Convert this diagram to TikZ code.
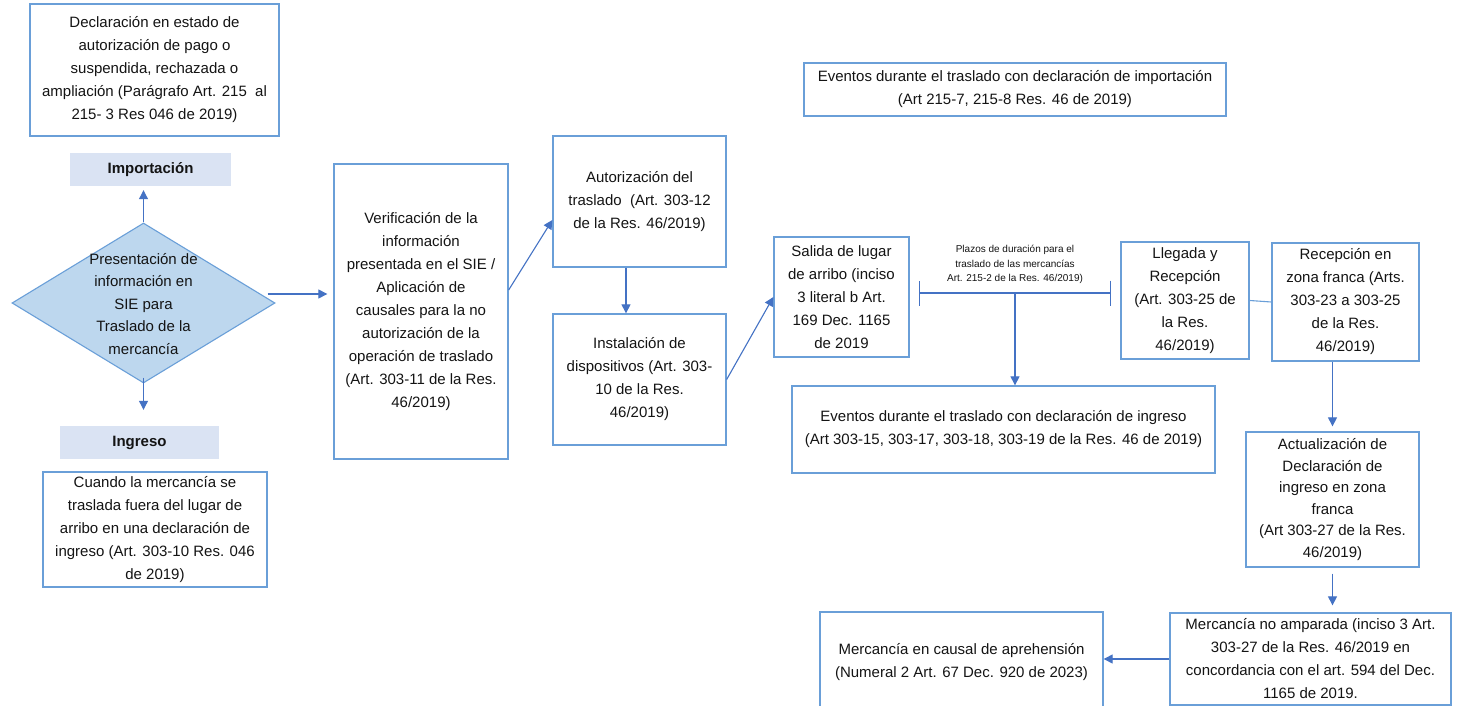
\documentclass[tikz,border=0pt]{standalone}
\usepackage{fontspec}
\setmainfont{Liberation Sans}
\usetikzlibrary{arrows.meta,shapes.geometric}
\definecolor{boxblue}{HTML}{6A9FD8}
\definecolor{arrblue}{HTML}{4472C4}
\definecolor{labfill}{HTML}{DAE3F3}
\definecolor{diafill}{HTML}{BDD7EE}
\definecolor{txt}{HTML}{141414}
\tikzset{
  box/.style={draw=boxblue, line width=1.3pt, fill=white, inner sep=0pt, align=center,
    text=txt, font=\fontsize{15}{23}\selectfont},
  lab/.style={fill=labfill, inner sep=0pt, align=center, text=txt,
    font=\fontsize{15}{23}\selectfont\bfseries},
  arr/.style={draw=arrblue, line width=1.1pt, -{Triangle[width=9pt,length=9pt]}},
  conn/.style={draw=boxblue, line width=1.1pt},
  dimline/.style={draw=arrblue, line width=1.1pt, {Bar[width=25pt,line width=1.1pt]}-{Bar[width=25pt,line width=1.1pt]}},
  small/.style={inner sep=0pt, align=center, text=txt, font=\fontsize{10}{14.5}\selectfont}
}
\begin{document}
\begin{tikzpicture}[x=1pt,y=-1pt]
\useasboundingbox (0,0) rectangle (1457,706);
\fill[white] (0,0) rectangle (1457,706);

\node[box, minimum width=249pt, minimum height=132pt] (decl) at (154.5,70)
  {Declaración en estado de\\autorización de pago o\\suspendida, rechazada o\\ampliación (Parágrafo Art. 215 \ al\\215- 3 Res 046 de 2019)};
\node[lab, minimum width=161pt, minimum height=33pt] (imp) at (150.5,169.5) {Importación};

\node[diamond, draw=boxblue, fill=diafill, line width=1.1pt, inner sep=0pt,
  minimum width=263pt, minimum height=160pt] (dia) at (143.5,303) {};
\node[inner sep=0pt, align=center, text=txt, font=\fontsize{15}{22.5}\selectfont] (diat) at (143.5,304)
  {Presentación de\\información en\\SIE para\\Traslado de la\\mercancía};

\node[lab, minimum width=159pt, minimum height=33pt] (ing) at (139.5,442.5) {Ingreso};
\node[box, minimum width=224pt, minimum height=115pt] (cuando) at (155,529.5)
  {Cuando la mercancía se\\traslada fuera del lugar de\\arribo en una declaración de\\ingreso (Art. 303-10 Res. 046\\de 2019)};

\node[box, minimum width=174pt, minimum height=295pt] (verif) at (421,311.5)
  {Verificación de la\\información\\presentada en el SIE /\\Aplicación de\\causales para la no\\autorización de la\\operación de traslado\\(Art. 303-11 de la Res.\\46/2019)};

\node[box, minimum width=173pt, minimum height=131pt] (autor) at (639.5,201.5)
  {Autorización del\\traslado \ (Art. 303-12\\de la Res. 46/2019)};
\node[box, minimum width=173pt, minimum height=131pt] (instal) at (639.5,379.5)
  {Instalación de\\dispositivos (Art. 303-\\10 de la Res.\\46/2019)};

\node[box, minimum width=135pt, minimum height=120pt] (salida) at (841.5,297)
  {Salida de lugar\\de arribo (inciso\\3 literal b Art.\\169 Dec. 1165\\de 2019};

\node[box, minimum width=422pt, minimum height=53pt] (evimp) at (1015,89.5)
  {Eventos durante el traslado con declaración de importación\\(Art 215-7, 215-8 Res. 46 de 2019)};
\node[box, minimum width=423pt, minimum height=87pt] (eving) at (1003.5,429.5)
  {Eventos durante el traslado con declaración de ingreso\\(Art 303-15, 303-17, 303-18, 303-19 de la Res. 46 de 2019)};

\node[box, minimum width=128pt, minimum height=117pt] (lleg) at (1185,300.5)
  {Llegada y\\Recepción\\(Art. 303-25 de\\la Res.\\46/2019)};
\node[box, minimum width=147pt, minimum height=118pt] (recep) at (1345.5,302)
  {Recepción en\\zona franca (Arts.\\303-23 a 303-25\\de la Res.\\46/2019)};
\node[box, minimum width=173pt, minimum height=135pt, font=\fontsize{15}{21.6}\selectfont] (actual) at (1332.5,499.5)
  {Actualización de\\Declaración de\\ingreso en zona\\franca\\(Art 303-27 de la Res.\\46/2019)};
\node[box, minimum width=281pt, minimum height=92pt] (noamp) at (1310.5,659)
  {Mercancía no amparada (inciso 3 Art.\\303-27 de la Res. 46/2019 en\\concordancia con el art. 594 del Dec.\\1165 de 2019.};
\node[box, minimum width=283pt, minimum height=100pt] (aprehen) at (961.5,662)
  {Mercancía en causal de aprehensión\\(Numeral 2 Art. 67 Dec. 920 de 2023)};

% dimension line
\coordinate (dl) at (919,293);
\coordinate (dr) at (1111,293);
\coordinate (dm) at (1015,293);
\draw[dimline] (dl) -- (dr);
\node[small] (plazo) at (1015,264.5)
  {Plazos de duración para el\\traslado de las mercancías\\Art. 215-2 de la Res. 46/2019)};
\draw[arr] (dm) -- (dm |- eving.north);

% connectors
\draw[arr, shorten >=4pt] (dia.north) -- (dia.north |- imp.south);
\draw[arr, shorten >=16pt, shorten <=-6pt] (dia.south) -- (dia.south |- ing.north);
\draw[arr, shorten >=6pt] ([xshift=-8pt,yshift=9pt]dia.east) -- ([yshift=9pt]verif.west |- dia.east);
\draw[arr] ([yshift=21.5pt]verif.east) -- ([yshift=-18.5pt]autor.west);
\draw[arr] ([xshift=-13.5pt]autor.south) -- ([xshift=-13.5pt]instal.north);
\draw[arr] (instal.east) -- (salida.west);
\draw[conn] (lleg.east) -- (recep.west);
\draw[arr, shorten >=5pt] (actual.north |- recep.south) -- (actual.north);
\draw[arr, shorten >=7pt, shorten <=6pt] (actual.south) -- (actual.south |- noamp.north);
\draw[arr] (noamp.west) -- (noamp.west -| aprehen.east);
\end{tikzpicture}
\end{document}
